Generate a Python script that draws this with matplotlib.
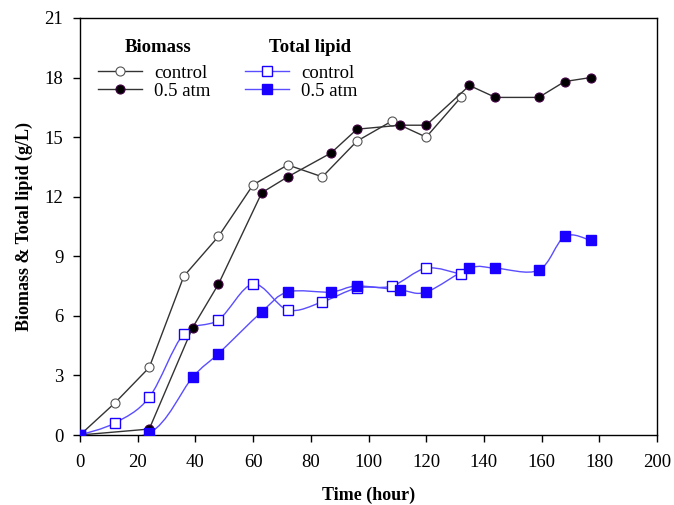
import matplotlib
matplotlib.use("Agg")
import numpy as np
import matplotlib.pyplot as plt
from matplotlib.path import Path
from matplotlib.patches import PathPatch
from matplotlib.lines import Line2D

plt.rcParams.update({
    "font.family": "serif",
    "font.serif": ["Liberation Serif", "DejaVu Serif"],
    "font.size": 12,
    "axes.linewidth": 1.0,
})

# biomass (g/L)
bio_ctrl_t = [0, 12, 24, 36, 48, 60, 72, 84, 96, 108, 120, 132]
bio_ctrl = [0, 1.6, 3.4, 8.0, 10.0, 12.6, 13.6, 13.0, 14.8, 15.8, 15.0, 17.0]
bio_p05_t = [0, 24, 39, 48, 63, 72, 87, 96, 111, 120, 135, 144, 159, 168, 177]
bio_p05 = [0, 0.3, 5.4, 7.6, 12.2, 13.0, 14.2, 15.4, 15.6, 15.6, 17.6, 17.0,
           17.0, 17.8, 18.0]

# total lipid (g/L)
lip_ctrl_t = [0, 12, 24, 36, 48, 60, 72, 84, 96, 108, 120, 132]
lip_ctrl = [0, 0.6, 1.9, 5.1, 5.8, 7.6, 6.3, 6.7, 7.4, 7.5, 8.4, 8.1]
lip_p05_t = [0, 24, 39, 48, 63, 72, 87, 96, 111, 120, 135, 144, 159, 168, 177]
lip_p05 = [0, 0.1, 2.9, 4.1, 6.2, 7.2, 7.2, 7.5, 7.3, 7.2, 8.4, 8.4, 8.3,
           10.0, 9.8]

C_BIO = "#333333"
C_LIP_LINE = "#5a4dff"
C_LIP = "#1a00ff"


def smooth_line(ax, xs, ys, color, lw=1.0):
    """Catmull-Rom curve through the points, drawn as cubic Bezier path."""
    p = np.column_stack([xs, ys]).astype(float)
    verts, codes = [p[0]], [Path.MOVETO]
    n = len(p)
    for i in range(n - 1):
        p0 = p[i - 1] if i > 0 else p[i]
        p1, p2 = p[i], p[i + 1]
        p3 = p[i + 2] if i + 2 < n else p[i + 1]
        verts += [p1 + (p2 - p0) / 6, p2 - (p3 - p1) / 6, p2]
        codes += [Path.CURVE4] * 3
    ax.add_patch(PathPatch(Path(verts, codes), fill=False, edgecolor=color,
                           lw=lw, zorder=2))


fig = plt.figure(figsize=(6.74, 5.05), dpi=100)
ax = fig.add_axes([0.1187, 0.1386, 0.8561, 0.8258])

ax.plot(bio_ctrl_t, bio_ctrl, "-o", color=C_BIO, lw=1.0, ms=6.5,
        mfc="white", mec="#555555", mew=0.8, zorder=3)
ax.plot(bio_p05_t, bio_p05, "-o", color=C_BIO, lw=1.0, ms=6.5,
        mfc="black", mec="#400040", mew=0.8, zorder=3)

smooth_line(ax, lip_ctrl_t, lip_ctrl, C_LIP_LINE)
smooth_line(ax, lip_p05_t, lip_p05, C_LIP_LINE)
ax.plot(lip_ctrl_t, lip_ctrl, "s", ms=7.5, mfc="white", mec=C_LIP,
        mew=1.0, zorder=3)
ax.plot(lip_p05_t, lip_p05, "s", ms=7.5, mfc=C_LIP, mec=C_LIP,
        mew=1.0, zorder=3)

ax.set_xlim(0, 200)
ax.set_ylim(0, 21)
ax.set_xticks(range(0, 201, 20))
ax.set_yticks(range(0, 22, 3))
ax.tick_params(direction="out", length=5, width=1.0, labelsize=13.5, pad=7)
ax.tick_params(axis="x", pad=9)
ax.set_xlabel("Time (hour)", fontweight="bold", fontsize=13, labelpad=11)
ax.set_ylabel("Biomass & Total lipid (g/L)", fontweight="bold", fontsize=13,
              labelpad=8)

# legend: two column groups with bold headers
h_bio = [Line2D([], [], color=C_BIO, lw=1.0, marker="o", ms=6.5, mfc="white",
                mec="#555555", mew=0.8),
         Line2D([], [], color=C_BIO, lw=1.0, marker="o", ms=6.5, mfc="black",
                mec="#400040", mew=0.8)]
h_lip = [Line2D([], [], color=C_LIP_LINE, lw=1.0, marker="s", ms=7,
                mfc="white", mec=C_LIP),
         Line2D([], [], color=C_LIP_LINE, lw=1.0, marker="s", ms=7,
                mfc=C_LIP, mec=C_LIP)]
kw = dict(frameon=False, fontsize=13.5, handlelength=2.35, handletextpad=0.65,
          labelspacing=0.04, borderpad=0, borderaxespad=0)
leg1 = ax.legend(h_bio, ["control", "0.5 atm"], loc="upper left",
                 bbox_to_anchor=(0.031, 0.888), **kw)
ax.add_artist(leg1)
ax.legend(h_lip, ["control", "0.5 atm"], loc="upper left",
          bbox_to_anchor=(0.286, 0.888), **kw)
ax.text(0.135, 0.930, "Biomass", transform=ax.transAxes, ha="center",
        va="center", fontsize=13.5, fontweight="bold")
ax.text(0.399, 0.930, "Total lipid", transform=ax.transAxes, ha="center",
        va="center", fontsize=13.5, fontweight="bold")

fig.savefig("out.png", dpi=100)
